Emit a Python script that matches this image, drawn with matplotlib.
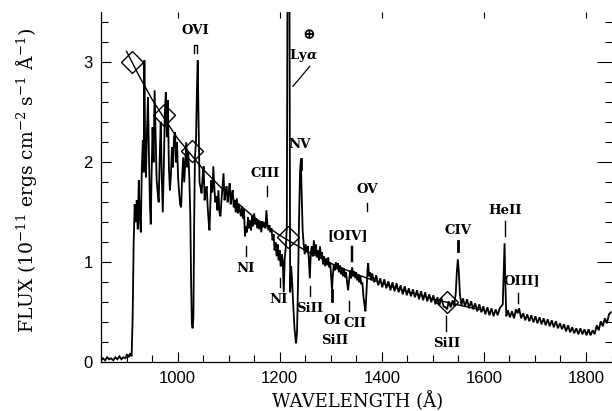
import numpy as np
import matplotlib
matplotlib.use("Agg")
import matplotlib.pyplot as plt
from matplotlib.ticker import MultipleLocator

plt.rcParams['mathtext.fontset'] = 'dejavuserif'

# ---------------- data ----------------
wave_blue = [850, 854, 858, 862, 866, 870, 874, 878, 882, 886, 890, 894, 898, 901, 904, 907, 910,
             912, 914, 916, 918, 920, 922, 924, 926, 928, 930, 932, 933.5, 935, 936.5, 938, 940,
             942, 944, 946, 947.5, 949, 951, 953, 955, 957, 959, 961, 963, 965, 967, 969, 971,
             973, 975, 977, 979, 981, 983, 985, 987, 989, 991, 993, 995, 997, 999, 1001, 1003,
             1005, 1007, 1009, 1011, 1013, 1015, 1017, 1019, 1021, 1023, 1025, 1026.5, 1028,
             1029.5, 1031, 1032.5, 1034, 1036, 1038, 1039.5, 1041, 1043, 1045, 1047, 1049, 1051,
             1053, 1055, 1057, 1059]
flux_blue = [0.02, 0.04, 0.02, 0.05, 0.03, 0.04, 0.02, 0.05, 0.03, 0.06, 0.03, 0.05, 0.04, 0.08, 0.05, 0.09, 0.06,
             0.45, 1.20, 1.58, 1.40, 1.62, 1.33, 1.82, 1.45, 1.30, 1.95, 2.22, 1.90, 3.02, 2.05, 1.85, 2.30,
             2.65, 2.05, 1.55, 1.38, 1.85, 2.35, 2.00, 2.72, 2.25, 1.82, 1.70, 1.60, 2.05, 2.40, 1.85, 1.50,
             1.95, 2.50, 2.70, 2.25, 2.62, 1.95, 1.72, 1.88, 2.15, 1.95, 2.25, 2.30, 2.00, 2.20, 1.85, 1.70,
             1.58, 1.55, 1.85, 2.05, 1.80, 2.00, 2.20, 1.95, 2.10, 1.85, 1.45, 0.80, 0.38,
             0.34, 0.45, 1.40, 2.05, 2.20, 2.75, 3.02, 2.45, 1.80, 1.75, 1.69, 1.85, 1.96,
             1.62, 1.70, 1.76, 1.55]

wave_mid = [1061, 1062.5, 1064, 1066, 1068, 1070, 1072, 1074, 1076, 1078, 1080, 1082, 1084, 1086, 1088,
            1090, 1092, 1094, 1096, 1098, 1100, 1102, 1104, 1106, 1108, 1110, 1112, 1114, 1116, 1118,
            1120, 1122, 1124, 1126, 1128, 1130, 1132, 1134, 1136, 1138, 1140, 1142, 1144, 1146, 1148,
            1150, 1152, 1154, 1156, 1158, 1160, 1162, 1164, 1166, 1168, 1170, 1172, 1174, 1176, 1178,
            1180, 1182, 1184, 1186, 1188, 1190, 1192, 1194, 1196, 1198, 1200, 1202, 1204, 1206, 1208,
            1210, 1212, 1214, 1215.5, 1219, 1220.5, 1222.5, 1224.5, 1226.5, 1229, 1232, 1234, 1236,
            1238, 1240, 1241.5, 1243, 1245, 1247, 1249, 1251, 1253, 1255, 1257, 1259, 1261, 1263,
            1265, 1267, 1269, 1271, 1273, 1275, 1277, 1279, 1281, 1283, 1285, 1287, 1289, 1291, 1293,
            1295, 1297, 1299, 1301, 1302.5, 1304, 1306, 1308, 1310, 1312, 1314, 1316, 1318, 1320, 1322,
            1324, 1326, 1328, 1330, 1332, 1334, 1336, 1338, 1340, 1342, 1344, 1346, 1348, 1350, 1352,
            1354, 1356, 1358, 1360, 1362, 1364, 1366, 1368, 1370, 1372, 1373.5, 1375, 1377, 1379]
flux_mid = [1.40, 1.32, 1.55, 1.82, 1.70, 1.96, 1.75, 1.60, 1.66, 1.52, 1.72, 1.50, 1.46, 1.62, 1.75,
            1.89, 1.62, 1.70, 1.76, 1.60, 1.69, 1.79, 1.58, 1.68, 1.72, 1.55, 1.62, 1.50, 1.64, 1.49,
            1.58, 1.52, 1.46, 1.56, 1.44, 1.53, 1.26, 1.36, 1.30, 1.45, 1.34, 1.42, 1.32, 1.46, 1.36,
            1.49, 1.38, 1.44, 1.34, 1.42, 1.33, 1.40, 1.30, 1.41, 1.35, 1.40, 1.34, 1.52, 1.38, 1.32,
            1.37, 1.30, 1.34, 1.22, 1.28, 1.12, 1.20, 1.06, 1.18, 1.02, 1.12, 0.96, 1.08, 1.02, 0.70,
            1.05, 1.15, 1.35, 4.20, 4.20, 0.70, 0.96, 0.80, 0.58, 0.34, 0.19, 0.30, 0.80,
            1.45, 1.92, 2.02, 1.70, 1.32, 1.18, 1.08, 1.18, 1.10, 1.16, 1.04, 0.84, 1.10, 1.16,
            1.06, 1.22, 1.08, 1.18, 1.05, 1.12, 1.02, 1.16, 1.04, 1.10, 0.98, 1.06, 0.96, 1.04, 0.97,
            1.05, 0.95, 1.00, 0.84, 0.72, 0.86, 0.98, 0.92, 1.00, 0.93, 0.99, 0.90, 0.97, 0.88, 0.95,
            0.86, 0.94, 0.85, 0.90, 0.80, 0.72, 0.82, 0.92, 0.84, 0.95, 0.86, 0.91, 0.84, 0.90, 0.82,
            0.88, 0.80, 0.86, 0.78, 0.80, 0.66, 0.58, 0.51, 0.70, 0.92, 0.99, 0.86, 0.90, 0.82]

wave_red = [1381, 1385, 1389, 1393, 1397, 1401, 1405, 1409, 1413, 1417, 1421, 1425, 1429, 1433, 1437,
            1441, 1445, 1449, 1453, 1457, 1461, 1465, 1469, 1473, 1477, 1481, 1485, 1489, 1493, 1497,
            1501, 1505, 1509, 1513, 1517, 1521, 1525, 1528, 1531, 1535, 1539, 1542, 1545, 1547, 1549,
            1551, 1553, 1556, 1559, 1563, 1567, 1571, 1575, 1579, 1583, 1587, 1591, 1595, 1599, 1603,
            1607, 1611, 1615, 1619, 1623, 1627, 1631, 1634, 1637, 1639, 1640.5, 1642, 1644, 1647, 1651,
            1655, 1659, 1663, 1666, 1669, 1673, 1677, 1681, 1685, 1689, 1693, 1697, 1701, 1705, 1709,
            1713, 1717, 1721, 1725, 1729, 1733, 1737, 1741, 1745, 1749, 1753, 1757, 1761, 1765, 1769,
            1773, 1777, 1781, 1785, 1789, 1793, 1797, 1801, 1805, 1809, 1813, 1817, 1821, 1825, 1829,
            1833, 1837, 1841, 1845, 1849]
flux_red = [0.89, 0.80, 0.87, 0.77, 0.84, 0.75, 0.83, 0.74, 0.81, 0.72, 0.80, 0.71, 0.79, 0.70, 0.77,
            0.68, 0.76, 0.67, 0.74, 0.66, 0.73, 0.65, 0.72, 0.63, 0.71, 0.62, 0.70, 0.61, 0.68, 0.60,
            0.67, 0.58, 0.65, 0.57, 0.64, 0.56, 0.55, 0.53, 0.61, 0.55, 0.62, 0.56, 0.70, 0.90, 1.03,
            0.90, 0.68, 0.57, 0.64, 0.56, 0.63, 0.54, 0.61, 0.53, 0.59, 0.51, 0.58, 0.50, 0.56, 0.48,
            0.55, 0.47, 0.54, 0.46, 0.53, 0.47, 0.54, 0.56, 0.58, 0.95, 1.19, 0.80, 0.46, 0.52, 0.45,
            0.51, 0.44, 0.53, 0.49, 0.54, 0.44, 0.49, 0.42, 0.48, 0.41, 0.47, 0.40, 0.46, 0.39, 0.45,
            0.38, 0.44, 0.37, 0.43, 0.36, 0.42, 0.35, 0.41, 0.34, 0.39, 0.33, 0.38, 0.31, 0.37, 0.30,
            0.35, 0.29, 0.34, 0.28, 0.34, 0.28, 0.33, 0.27, 0.33, 0.27, 0.32, 0.28, 0.37, 0.32, 0.41,
            0.36, 0.44, 0.39, 0.48, 0.50]

# continuum fit
fit_wave = [900, 925, 950, 975, 1000, 1050, 1100, 1150, 1200, 1250, 1300, 1350, 1400, 1450, 1500, 1550, 1600]
fit_flux = [3.11, 2.86, 2.63, 2.43, 2.24, 1.93, 1.67, 1.45, 1.27, 1.12, 0.99, 0.88, 0.79, 0.705, 0.634, 0.573, 0.519]

# continuum points (diamonds)
pt_wave = [911, 974, 1027.5, 1216.6, 1527]
pt_flux = [3.00, 2.47, 2.11, 1.25, 0.60]

# line identifications: (label, text x, text y)
labels = [("OVI", 1034, 3.32), ("CIII", 1171, 1.89), ("NI", 1133, 0.94), ("NI", 1197, 0.63),
          ("NV", 1239, 2.18), ("SiII", 1259, 0.54), ("OI", 1303, 0.42), ("SiII", 1308, 0.22),
          ("CII", 1348, 0.39), ("[OIV]", 1334, 1.27), ("OV", 1371, 1.73), ("SiII", 1526.5, 0.19),
          ("CIV", 1549, 1.32), ("HeII", 1641, 1.52), ("OIII]", 1674, 0.82)]
# identification ticks: (x, y bottom, y top, width)
id_ticks = [(1175, 1.66, 1.76, 1.0), (1134, 1.06, 1.16, 1.0), (1201, 0.75, 0.84, 1.0),
            (1241, 1.93, 2.03, 2.0), (1260, 0.66, 0.76, 1.0), (1303, 0.61, 0.72, 2.0),
            (1336, 0.51, 0.61, 1.0), (1339, 1.01, 1.16, 1.0), (1342.5, 1.01, 1.16, 1.0),
            (1371, 1.51, 1.59, 1.0), (1526.5, 0.31, 0.46, 1.0), (1549, 1.11, 1.21, 2.0),
            (1641, 1.26, 1.41, 1.0), (1666.5, 0.59, 0.69, 1.0)]

# ---------------- figure ----------------
fig = plt.figure(figsize=(6.12, 4.11), dpi=100)
ax = fig.add_axes([101/612, 1 - 362.3/411, 510.5/612, 350/411])

wave = wave_blue + wave_mid + wave_red
flux = flux_blue + flux_mid + flux_red
ax.plot(wave, flux, color='black', lw=1.3, solid_joinstyle='miter')
ax.plot(fit_wave, fit_flux, color='black', lw=1.0)
ax.plot(pt_wave, pt_flux, linestyle='none', marker='D', ms=11, mfc='none', mec='black', mew=1.0)

serif = ['DejaVu Serif', 'DejaVu Sans']
for t, x, y in labels:
    ax.text(x, y, t, ha='center', va='center', fontsize=9.5, family=serif, weight='bold')
for x, y0, y1, w in id_ticks:
    ax.plot([x, x], [y0, y1], color='black', lw=w)
# OVI doublet mark
ax.plot([1032, 1032, 1037.5, 1037.5], [3.09, 3.17, 3.17, 3.09], color='black', lw=1.0)
# geocoronal Lya
ax.text(1257, 3.27, "\u2295", ha='center', va='center', fontsize=11, family=serif, weight='bold')
ax.text(1246, 3.07, r"Ly$\boldsymbol{\alpha}$", ha='center', va='center', fontsize=9.5,
        family=serif, weight='bold')
ax.plot([1259, 1226], [2.96, 2.76], color='black', lw=0.9)

ax.set_xlim(850, 1850)
ax.set_ylim(0, 3.5)
ax.xaxis.set_major_locator(MultipleLocator(200))
ax.xaxis.set_minor_locator(MultipleLocator(50))
ax.yaxis.set_major_locator(MultipleLocator(1))
ax.yaxis.set_minor_locator(MultipleLocator(0.2))
ax.tick_params(which='both', direction='in', top=False, right=False, width=0.8,
               labelsize=12, pad=6)
ax.tick_params(which='major', length=7.2)
ax.tick_params(which='minor', length=5)
for lab in ax.get_xticklabels() + ax.get_yticklabels():
    lab.set_family('Liberation Sans')
ax.spines['top'].set_visible(False)
ax.spines['right'].set_visible(False)
ax.spines['left'].set_linewidth(0.9)
ax.spines['bottom'].set_linewidth(0.9)

# top ticks (major only, short)
axt = ax.secondary_xaxis('top')
axt.xaxis.set_major_locator(MultipleLocator(200))
axt.tick_params(which='major', direction='in', length=4, width=0.8, labeltop=False)
axt.tick_params(which='minor', length=0)
axt.spines['top'].set_visible(False)

# right ticks (longer)
axr = ax.secondary_yaxis('right')
axr.yaxis.set_major_locator(MultipleLocator(1))
axr.yaxis.set_minor_locator(MultipleLocator(0.2))
axr.tick_params(which='major', direction='in', length=10.5, width=0.8, labelright=False)
axr.tick_params(which='minor', direction='in', length=5, width=0.8)
axr.spines['right'].set_color('#bbbbbb')
axr.spines['right'].set_linewidth(0.6)

fig.text(358/612, 1 - 401/411, "WAVELENGTH (\u00c5)", ha='center', va='center',
         fontsize=13, family=serif)
fig.text(27/612, 1 - 180/411,
         r"FLUX (10$^{-11}$ ergs cm$^{-2}$ s$^{-1}$ $\mathrm{\AA}^{-1}$)",
         ha='center', va='center', rotation=90, fontsize=13.5, family=serif)

fig.savefig("out.png", dpi=100)
